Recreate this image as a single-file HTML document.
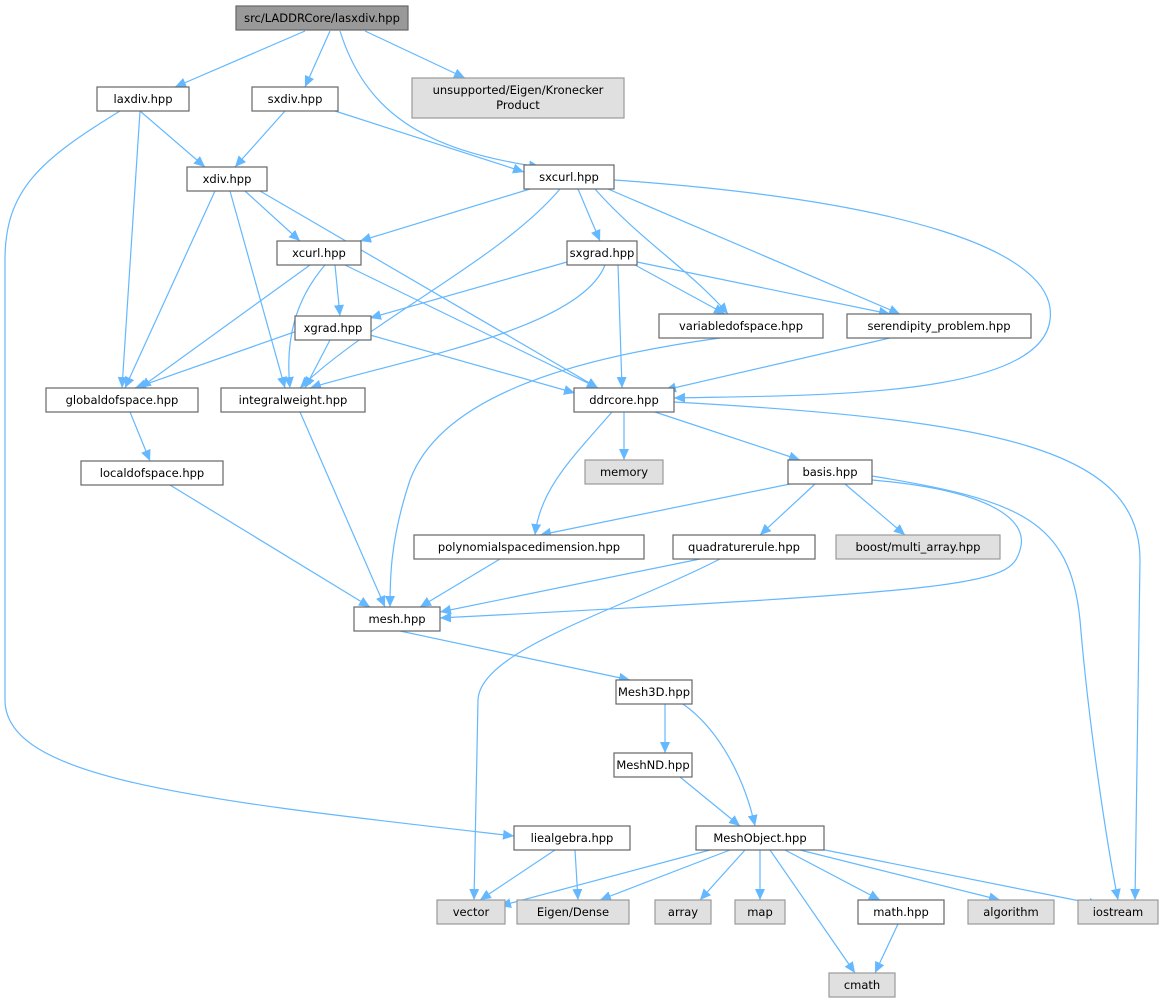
<!DOCTYPE html>
<html><head><meta charset="utf-8"><style>
html,body{margin:0;padding:0;background:#fff;}
svg{display:block}
text{font-family:"DejaVu Sans","Liberation Sans",sans-serif;font-size:11.5px;fill:#000;text-anchor:middle}
.n rect{fill:#fff;stroke:#666;stroke-width:1.2}
.g rect{fill:#e0e0e0;stroke:#999;stroke-width:1.2}
.e path{fill:none;stroke:#63b8ff;stroke-width:1.2}
</style></head><body>
<svg width="1164" height="1004" viewBox="0 0 1164 1004" xmlns="http://www.w3.org/2000/svg">
<defs><marker id="a" markerUnits="userSpaceOnUse" markerWidth="12" markerHeight="10" refX="11" refY="5" orient="auto"><path d="M0,0 L11,5 L0,10 z" fill="#63b8ff"/></marker></defs>
<g class="e" marker-end="url(#a)">
<path marker-end="url(#a)" d="M305,31 L175,87"/>
<path marker-end="url(#a)" d="M330,31 L305,87"/>
<path marker-end="url(#a)" d="M340,31 C365,110 420,150 540,167"/>
<path marker-end="url(#a)" d="M365,31 L465,78"/>
<path marker-end="url(#a)" d="M140,111 L205,167"/>
<path marker-end="url(#a)" d="M140,111 L122,388"/>
<path marker-end="url(#a)" d="M120,111 C40,160 5,190 5,260 L5,700 C5,780 200,800 514,836"/>
<path marker-end="url(#a)" d="M285,111 L235,167"/>
<path marker-end="url(#a)" d="M335,111 L524,172"/>
<path marker-end="url(#a)" d="M245,191 L300,241"/>
<path marker-end="url(#a)" d="M215,191 L125,388"/>
<path marker-end="url(#a)" d="M230,191 L285,388"/>
<path marker-end="url(#a)" d="M260,191 L598,388"/>
<path marker-end="url(#a)" d="M530,189 L360,241"/>
<path marker-end="url(#a)" d="M578,189 L600,241"/>
<path marker-end="url(#a)" d="M560,189 C500,260 370,320 300,388"/>
<path marker-end="url(#a)" d="M595,189 C640,240 690,270 728,314"/>
<path marker-end="url(#a)" d="M608,189 L900,314"/>
<path marker-end="url(#a)" d="M614,180 C900,200 1060,250 1050,320 C1040,400 800,395 674,398"/>
<path marker-end="url(#a)" d="M310,265 L140,388"/>
<path marker-end="url(#a)" d="M325,265 C295,300 285,340 290,388"/>
<path marker-end="url(#a)" d="M335,265 L340,316"/>
<path marker-end="url(#a)" d="M345,265 L598,388"/>
<path marker-end="url(#a)" d="M567,262 L370,318"/>
<path marker-end="url(#a)" d="M605,265 C580,330 400,360 310,388"/>
<path marker-end="url(#a)" d="M618,265 L622,388"/>
<path marker-end="url(#a)" d="M635,265 L725,314"/>
<path marker-end="url(#a)" d="M637,262 L890,314"/>
<path marker-end="url(#a)" d="M300,330 L135,388"/>
<path marker-end="url(#a)" d="M330,340 L305,388"/>
<path marker-end="url(#a)" d="M370,335 L575,393"/>
<path marker-end="url(#a)" d="M720,338 C560,360 440,400 410,480 C390,540 390,580 390,607"/>
<path marker-end="url(#a)" d="M890,338 L665,390"/>
<path marker-end="url(#a)" d="M130,412 L150,461"/>
<path marker-end="url(#a)" d="M300,412 L385,607"/>
<path marker-end="url(#a)" d="M624,412 L624,460"/>
<path marker-end="url(#a)" d="M655,412 L800,460"/>
<path marker-end="url(#a)" d="M612,412 C570,460 540,490 535,535"/>
<path marker-end="url(#a)" d="M674,402 C1000,420 1140,450 1140,560 L1135,900"/>
<path marker-end="url(#a)" d="M170,485 L370,607"/>
<path marker-end="url(#a)" d="M790,484 L540,535"/>
<path marker-end="url(#a)" d="M815,484 L760,535"/>
<path marker-end="url(#a)" d="M845,484 L905,535"/>
<path marker-end="url(#a)" d="M872,480 C990,490 1030,520 1020,550 C1010,585 980,590 440,618"/>
<path marker-end="url(#a)" d="M872,476 C1020,500 1070,520 1080,620 C1090,740 1110,860 1118,900"/>
<path marker-end="url(#a)" d="M500,559 L420,607"/>
<path marker-end="url(#a)" d="M700,559 L440,612"/>
<path marker-end="url(#a)" d="M720,559 C620,610 480,650 478,700 L474,900"/>
<path marker-end="url(#a)" d="M400,631 L630,680"/>
<path marker-end="url(#a)" d="M665,704 L665,753"/>
<path marker-end="url(#a)" d="M683,704 C720,730 745,780 755,826"/>
<path marker-end="url(#a)" d="M680,777 L740,826"/>
<path marker-end="url(#a)" d="M555,850 L480,900"/>
<path marker-end="url(#a)" d="M575,850 L578,900"/>
<path marker-end="url(#a)" d="M710,850 L500,906"/>
<path marker-end="url(#a)" d="M730,850 L600,900"/>
<path marker-end="url(#a)" d="M745,850 L700,900"/>
<path marker-end="url(#a)" d="M760,850 L760,900"/>
<path marker-end="url(#a)" d="M770,850 L855,973"/>
<path marker-end="url(#a)" d="M785,850 L880,900"/>
<path marker-end="url(#a)" d="M800,850 L1000,900"/>
<path marker-end="url(#a)" d="M815,848 L1100,905"/>
<path marker-end="url(#a)" d="M898,924 L875,973"/>
</g>
<g>
<rect x="236" y="6" width="172" height="24" fill="#999" stroke="#666" stroke-width="1.2"/><text x="322" y="22">src/LADDRCore/lasxdiv.hpp</text>
</g>
<g class="n">
<rect x="97" y="87" width="92" height="24"/><text x="143" y="103">laxdiv.hpp</text>
<rect x="252" y="87" width="86" height="24"/><text x="295" y="103">sxdiv.hpp</text>
<rect x="187" y="167" width="80" height="24"/><text x="227" y="183">xdiv.hpp</text>
<rect x="524" y="165" width="90" height="24"/><text x="569" y="181">sxcurl.hpp</text>
<rect x="277" y="241" width="84" height="24"/><text x="319" y="257">xcurl.hpp</text>
<rect x="567" y="241" width="70" height="24"/><text x="602" y="257">sxgrad.hpp</text>
<rect x="295" y="316" width="76" height="24"/><text x="333" y="332">xgrad.hpp</text>
<rect x="659" y="314" width="164" height="24"/><text x="741" y="330">variabledofspace.hpp</text>
<rect x="847" y="314" width="184" height="24"/><text x="939" y="330">serendipity_problem.hpp</text>
<rect x="46" y="388" width="152" height="24"/><text x="122" y="404">globaldofspace.hpp</text>
<rect x="221" y="388" width="144" height="24"/><text x="293" y="404">integralweight.hpp</text>
<rect x="574" y="388" width="100" height="24"/><text x="624" y="404">ddrcore.hpp</text>
<rect x="81" y="461" width="142" height="24"/><text x="152" y="477">localdofspace.hpp</text>
<rect x="788" y="460" width="84" height="24"/><text x="830" y="476">basis.hpp</text>
<rect x="414" y="535" width="230" height="24"/><text x="529" y="551">polynomialspacedimension.hpp</text>
<rect x="673" y="535" width="142" height="24"/><text x="744" y="551">quadraturerule.hpp</text>
<rect x="354" y="607" width="86" height="24"/><text x="397" y="623">mesh.hpp</text>
<rect x="616" y="680" width="76" height="24"/><text x="654" y="696">Mesh3D.hpp</text>
<rect x="614" y="753" width="78" height="24"/><text x="653" y="769">MeshND.hpp</text>
<rect x="514" y="826" width="116" height="24"/><text x="572" y="842">liealgebra.hpp</text>
<rect x="696" y="826" width="128" height="24"/><text x="760" y="842">MeshObject.hpp</text>
<rect x="858" y="900" width="86" height="24"/><text x="901" y="916">math.hpp</text>
</g>
<g class="g">
<rect x="412" y="78" width="212" height="40"/><text x="518" y="94">unsupported/Eigen/Kronecker</text><text x="518" y="109">Product</text>
<rect x="585" y="460" width="78" height="24"/><text x="624" y="476">memory</text>
<rect x="836" y="535" width="164" height="24"/><text x="918" y="551">boost/multi_array.hpp</text>
<rect x="437" y="900" width="68" height="24"/><text x="471" y="916">vector</text>
<rect x="517" y="900" width="112" height="24"/><text x="573" y="916">Eigen/Dense</text>
<rect x="655" y="900" width="56" height="24"/><text x="683" y="916">array</text>
<rect x="735" y="900" width="50" height="24"/><text x="760" y="916">map</text>
<rect x="968" y="900" width="86" height="24"/><text x="1011" y="916">algorithm</text>
<rect x="1078" y="900" width="80" height="24"/><text x="1118" y="916">iostream</text>
<rect x="829" y="973" width="66" height="24"/><text x="862" y="989">cmath</text>
</g>
</svg>
</body></html>
